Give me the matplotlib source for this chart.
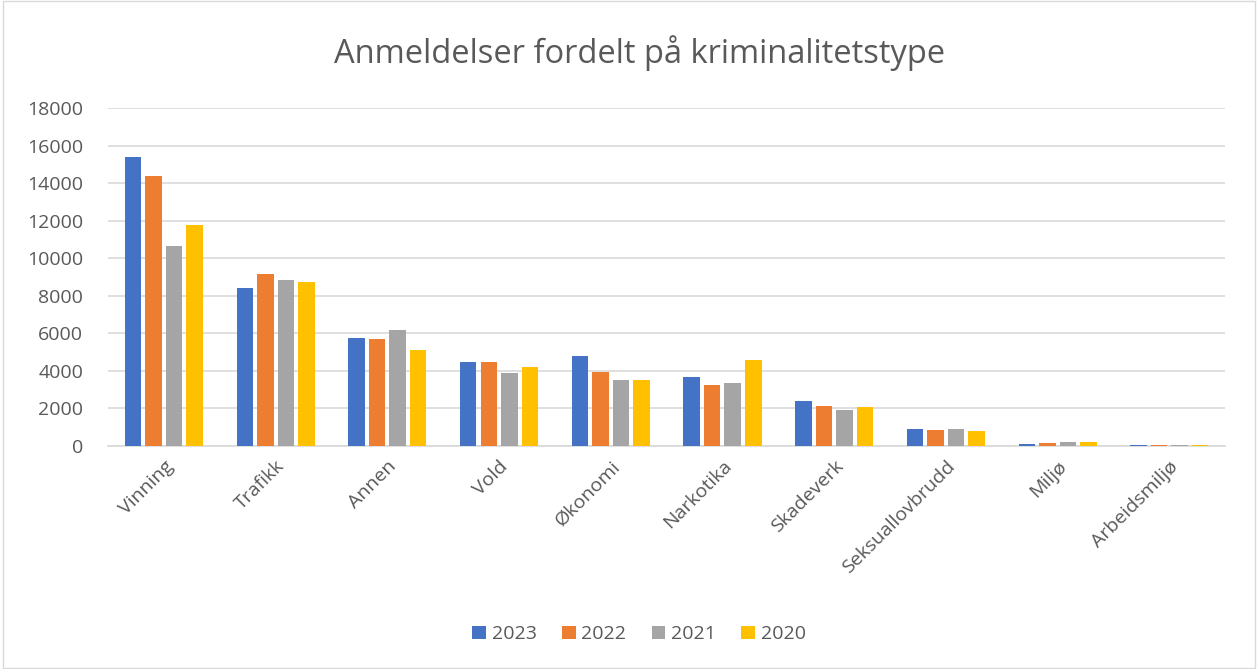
import matplotlib
matplotlib.use("Agg")
import matplotlib.pyplot as plt
import numpy as np

plt.rcParams['font.family'] = ['Open Sans', 'DejaVu Sans']

categories = ["Vinning", "Trafikk", "Annen", "Vold", "Økonomi", "Narkotika",
              "Skadeverk", "Seksuallovbrudd", "Miljø", "Arbeidsmiljø"]
years = ["2023", "2022", "2021", "2020"]
v2023 = [15410, 8390, 5760, 4460, 4820, 3700, 2390, 890, 125, 75]
v2022 = [14360, 9170, 5710, 4460, 3950, 3240, 2120, 860, 145, 70]
v2021 = [10650, 8840, 6170, 3890, 3490, 3380, 1940, 890, 235, 65]
v2020 = [11770, 8760, 5100, 4210, 3490, 4560, 2080, 820, 235, 60]
series = [v2023, v2022, v2021, v2020]
colors = ["#4472C4", "#ED7D31", "#A5A5A5", "#FFC000"]
yticks = [0, 2000, 4000, 6000, 8000, 10000, 12000, 14000, 16000, 18000]

fig = plt.figure(figsize=(12.58, 6.69), dpi=100)
ax = fig.add_axes([0.0859, 0.3333, 0.888, 0.5053])

x = np.arange(len(categories))
pitch = 0.184
width = 0.148
for i, (vals, col, yr) in enumerate(zip(series, colors, years)):
    ax.bar(x + (i - 1.5) * pitch, vals, width, color=col, label=yr,
           edgecolor="none", zorder=3)

ax.set_xlim(-0.5, len(categories) - 0.5)
ax.set_ylim(0, 18000)
ax.set_yticks(yticks)
ax.set_yticklabels([str(t) for t in yticks], fontsize=14, color="#595959")
ax.yaxis.grid(True, color="#D9D9D9", linewidth=1.2, zorder=0)
ax.set_xticks(x)
ax.set_xticklabels(categories, rotation=45, ha="right", rotation_mode="anchor",
                   fontsize=14, color="#595959")
ax.tick_params(axis="x", length=0, pad=8)
ax.tick_params(axis="y", length=0, pad=18)
for s in ["top", "right", "left"]:
    ax.spines[s].set_visible(False)
ax.spines["bottom"].set_color("#D9D9D9")
ax.spines["bottom"].set_linewidth(1.2)
ax.spines["bottom"].set_zorder(1)

fig.suptitle("Anmeldelser fordelt på kriminalitetstype", x=0.508, y=0.948,
             fontsize=23.5, color="#595959")

handles, labels = ax.get_legend_handles_labels()
fig.legend(handles, labels, loc="center", bbox_to_anchor=(0.508, 0.052), ncol=4,
           frameon=False, fontsize=14, labelcolor="#595959", handlelength=0.7,
           handleheight=0.7, handletextpad=0.3, columnspacing=1.3)

border = plt.Rectangle((0.002, 0.002), 0.996, 0.996, transform=fig.transFigure,
                       fill=False, edgecolor="#D9D9D9", linewidth=1)
fig.patches.append(border)

fig.savefig("out.png", dpi=100, facecolor="white")
